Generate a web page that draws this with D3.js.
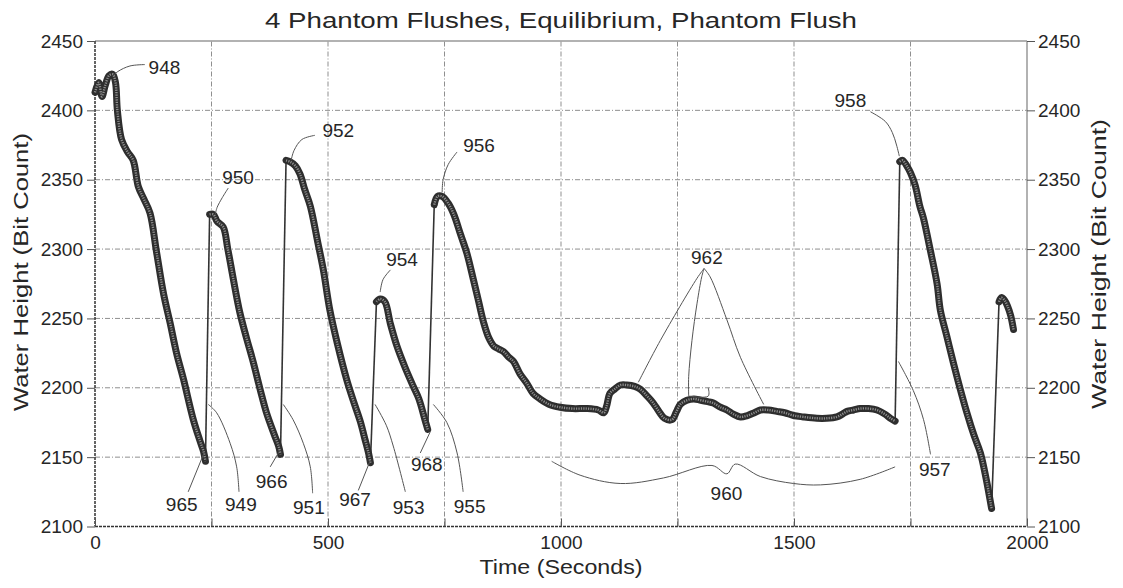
<!DOCTYPE html>
<html>
<head>
<meta charset="utf-8">
<script src="https://cdn.jsdelivr.net/npm/d3@7"></script>
<style>
html,body{margin:0;padding:0;background:#fff;}
text{font-family:"Liberation Sans",Arial,sans-serif;fill:#262626;}
</style>
</head>
<body>
<svg id="chart" width="1123" height="588"></svg>
<script>
// ---------- data ----------
const title = "4 Phantom Flushes, Equilibrium, Phantom Flush";
const xTitle = "Time (Seconds)";
const yTitle = "Water Height (Bit Count)";
const xDomain = [0, 2000];
const yDomain = [2100, 2450];
const xLabelTicks = [0, 500, 1000, 1500, 2000];
const xMinorTicks = [0, 250, 500, 750, 1000, 1250, 1500, 1750, 2000];
const yTicks = [2100, 2150, 2200, 2250, 2300, 2350, 2400, 2450];

const times = [0,8,15,22,30,38,44,48,57,70,82,93,105,118,132,147,161,175,190,211,225,233,237,
 246,254,262,275,285,297,311,325,340,355,368,385,394,398,
 410,418,430,440,450,462,478,490,504,520,540,555,569,580,587,591,
 604,612,622,634,648,665,683,695,708,714,
 728,735,745,758,770,785,798,812,822,834,845,856,866,877,888,898,912,927,940,955,975,998,1025,1056,1080,1092,1098,1105,1115,1128,1141,1158,1170,1185,1198,1210,1222,1238,1248,1256,1270,1285,1300,1315,1327,1342,1356,1370,1385,1400,1415,1428,1445,1463,1480,1499,1520,1549,1570,1592,1604,1614,1628,1642,1660,1678,1695,1707,1717,
 1727,1733,1742,1750,1760,1770,1778,1792,1807,1814,1828,1842,1856,1871,1886,1900,1912,1924,
 1940,1945,1952,1958,1965,1971];
const heights = [2413,2420,2410,2418,2425,2426,2420,2400,2379,2370,2364,2345,2336,2326,2298,2268,2247,2225,2206,2177,2162,2154,2147,
 2325,2325,2320,2316,2300,2278,2254,2236,2218,2198,2182,2166,2158,2152,
 2364,2363,2360,2354,2343,2331,2305,2285,2256,2232,2206,2190,2176,2162,2153,2146,
 2262,2264,2262,2246,2230,2215,2201,2192,2177,2170,
 2332,2338,2338,2333,2325,2310,2297,2278,2264,2247,2236,2230,2228,2226,2222,2219,2210,2203,2196,2192,2188,2186,2185,2185,2184,2182,2187,2196,2199,2202,2202,2201,2199,2194,2189,2183,2178,2177,2183,2188,2191,2192,2191,2190,2189,2186,2184,2181,2179,2180,2182,2184,2184,2183,2182,2180,2179,2178,2178,2179,2181,2183,2184,2185,2185,2184,2181,2178,2176,
 2363,2364,2360,2355,2346,2331,2322,2300,2275,2256,2237,2218,2200,2182,2166,2153,2135,2113,
 2262,2265,2263,2259,2252,2242];

// annotation labels (in data units)
const noteLabels = ["948","950","952","954","956","958","962","960","965","949","966","951","967","953","968","955","957"];
const noteT = [149,307,522,659,824,1621,1313,1355,186,313,379,459,558,673,712,804,1802];
const noteV = [2431,2352,2386,2293,2375,2407,2294,2124,2116,2116,2133,2114,2120,2114,2145,2115,2141];
// leader lines (data units)
const leaders = [
 [[107,2433],[75,2432],[49,2428],[39,2425]],
 [[286,2344],[273,2337],[262,2330],[258,2325]],
 [[472,2382],[444,2379],[427,2371],[421,2364]],
 [[634,2285],[618,2278],[612,2269]],
 [[777,2370],[758,2361],[747,2350],[745,2341]],
 [[1664,2399],[1696,2392],[1711,2384],[1720,2375],[1726,2367]],
 [[1307,2286],[1292,2279],[1213,2234],[1166,2204]],
 [[1307,2286],[1302,2280],[1292,2261],[1281,2234],[1274,2208],[1274,2194]],
 [[1307,2286],[1320,2280],[1356,2249],[1385,2222],[1435,2188]],
 [[1274,2194],[1316,2194],[1316,2200]],
 [[200,2125],[234,2153]],
 [[309,2125],[304,2143],[290,2160],[261,2182],[243,2188]],
 [[376,2143],[397,2155]],
 [[467,2124],[462,2143],[447,2160],[425,2177],[404,2188]],
 [[565,2126],[590,2147]],
 [[666,2125],[640,2158],[625,2173],[601,2188]],
 [[698,2153],[719,2168]],
 [[790,2125],[777,2153],[755,2175],[726,2188]],
 [[1793,2152],[1778,2177],[1756,2198],[1724,2219]]
];
// brace under the equilibrium region (960)
const brace = [[980,2147],[1041,2137],[1127,2131],[1220,2135],[1324,2144],[1356,2138],[1374,2145],[1428,2136],[1499,2131],[1557,2130],[1642,2134],[1717,2143]];

// ---------- drawing ----------
const svg = d3.select("#chart");
const W = 1123, H = 588;
const m = {left:95, right:1123-1027, top:41, bottom:588-526.5};
const x = d3.scaleLinear().domain(xDomain).range([m.left, W - m.right]);
const y = d3.scaleLinear().domain(yDomain).range([H - m.bottom, m.top]);

// grid
const gGrid = svg.append("g");
gGrid.selectAll("line.v").data(xMinorTicks.filter(d => d > xDomain[0] && d < xDomain[1]))
  .join("line").attr("x1", d => x(d)).attr("x2", d => x(d)).attr("y1", y(yDomain[0])).attr("y2", y(yDomain[1]))
  .attr("stroke", "#8f8f8f").attr("stroke-width", 1).attr("stroke-dasharray", "5,2,1,2");
gGrid.selectAll("line.h").data(yTicks.filter(d => d > yDomain[0] && d < yDomain[1]))
  .join("line").attr("y1", d => y(d)).attr("y2", d => y(d)).attr("x1", x(xDomain[0])).attr("x2", x(xDomain[1]))
  .attr("stroke", "#8f8f8f").attr("stroke-width", 1).attr("stroke-dasharray", "5,2,1,2");

// frame
svg.append("line").attr("x1", x(0)).attr("x2", x(2000)).attr("y1", y(2450)).attr("y2", y(2450)).attr("stroke", "#999").attr("stroke-width", 1.5);
svg.append("line").attr("x1", x(2000)).attr("x2", x(2000)).attr("y1", y(2450)).attr("y2", y(2100)).attr("stroke", "#999").attr("stroke-width", 1.5);
svg.append("line").attr("x1", x(0)).attr("x2", x(0)).attr("y1", y(2450)).attr("y2", y(2100)).attr("stroke", "#333").attr("stroke-width", 1.5).attr("stroke-dasharray", "3,1");
svg.append("line").attr("x1", x(0)).attr("x2", x(2000)).attr("y1", y(2100)).attr("y2", y(2100)).attr("stroke", "#333").attr("stroke-width", 1.5).attr("stroke-dasharray", "3,1");

// axes
const fontTick = 19;
const axL = svg.append("g").attr("transform", `translate(${x(0)},0)`)
  .call(d3.axisLeft(y).tickValues(yTicks).tickSize(8).tickPadding(4).tickFormat(d3.format("d")));
const axR = svg.append("g").attr("transform", `translate(${x(2000)},0)`)
  .call(d3.axisRight(y).tickValues(yTicks).tickSize(8).tickPadding(3).tickFormat(d3.format("d")));
const axBm = svg.append("g").attr("transform", `translate(0,${y(2100)})`)
  .call(d3.axisBottom(x).tickValues(xMinorTicks).tickSize(-8).tickFormat(""));
const axB = svg.append("g").attr("transform", `translate(0,${y(2100)})`)
  .call(d3.axisBottom(x).tickValues(xLabelTicks).tickSize(0).tickPadding(9).tickFormat(d3.format("d")));
[axL, axR, axBm, axB].forEach(a => {
  a.select(".domain").remove();
  a.selectAll("line").attr("stroke", "#555").attr("stroke-width", 1);
  a.selectAll("text").attr("font-size", fontTick).attr("font-family", '"Liberation Sans",Arial,sans-serif').attr("fill", "#262626");
});

// series: split into slow (thick band) and fast rising (thin) pieces
const pts = times.map((t, i) => [t, heights[i]]);
const runs = []; const rises = [];
let cur = [pts[0]];
for (let i = 1; i < pts.length; i++) {
  const slope = (pts[i][1] - pts[i-1][1]) / (pts[i][0] - pts[i-1][0]);
  if (slope > 4) { rises.push([pts[i-1], pts[i]]); runs.push(cur); cur = [pts[i]]; }
  else cur.push(pts[i]);
}
runs.push(cur);
const line = d3.line().x(d => x(d[0])).y(d => y(d[1])).curve(d3.curveCatmullRom.alpha(0.5));
const lineS = d3.line().x(d => x(d[0])).y(d => y(d[1]));
svg.append("g").selectAll("path").data(rises).join("path").attr("d", lineS)
  .attr("fill", "none").attr("stroke", "#333").attr("stroke-width", 1.6);
const gRun = svg.append("g");
gRun.selectAll("path.a").data(runs).join("path").attr("d", line)
  .attr("fill", "none").attr("stroke", "#2e2e2e").attr("stroke-width", 7).attr("stroke-linejoin", "round").attr("stroke-linecap", "round");
gRun.selectAll("path.b").data(runs).join("path").attr("d", line)
  .attr("fill", "none").attr("stroke", "#8e8e8e").attr("stroke-width", 2.4).attr("stroke-dasharray", "1.2,1.2");

// annotations
const lineA = d3.line().x(d => x(d[0])).y(d => y(d[1])).curve(d3.curveCatmullRom.alpha(0.5));
svg.append("g").selectAll("path").data(leaders).join("path").attr("d", lineA)
  .attr("fill", "none").attr("stroke", "#555").attr("stroke-width", 1);
svg.append("path").datum(brace).attr("d", d3.line().x(d => x(d[0])).y(d => y(d[1])).curve(d3.curveCatmullRom.alpha(0.5)))
  .attr("fill", "none").attr("stroke", "#555").attr("stroke-width", 1);
svg.append("g").selectAll("text").data(noteLabels).join("text")
  .attr("x", (d, i) => x(noteT[i])).attr("y", (d, i) => y(noteV[i]))
  .attr("text-anchor", "middle").attr("dy", "0.36em").attr("font-size", 19).text(d => d);

// titles
svg.append("text").attr("x", (x(0) + x(2000)) / 2).attr("y", 28).attr("text-anchor", "middle")
  .attr("font-size", 22).attr("textLength", 592).attr("lengthAdjust", "spacingAndGlyphs").text(title);
svg.append("text").attr("x", (x(0) + x(2000)) / 2).attr("y", 574).attr("text-anchor", "middle")
  .attr("font-size", 20).attr("textLength", 163).attr("lengthAdjust", "spacingAndGlyphs").text(xTitle);
svg.append("text").attr("transform", "translate(28,272) rotate(-90)").attr("text-anchor", "middle")
  .attr("font-size", 20).attr("textLength", 278).attr("lengthAdjust", "spacingAndGlyphs").text(yTitle);
svg.append("text").attr("transform", "translate(1106,264) rotate(-90)").attr("text-anchor", "middle")
  .attr("font-size", 20).attr("textLength", 290).attr("lengthAdjust", "spacingAndGlyphs").text(yTitle);
</script>
</body>
</html>
